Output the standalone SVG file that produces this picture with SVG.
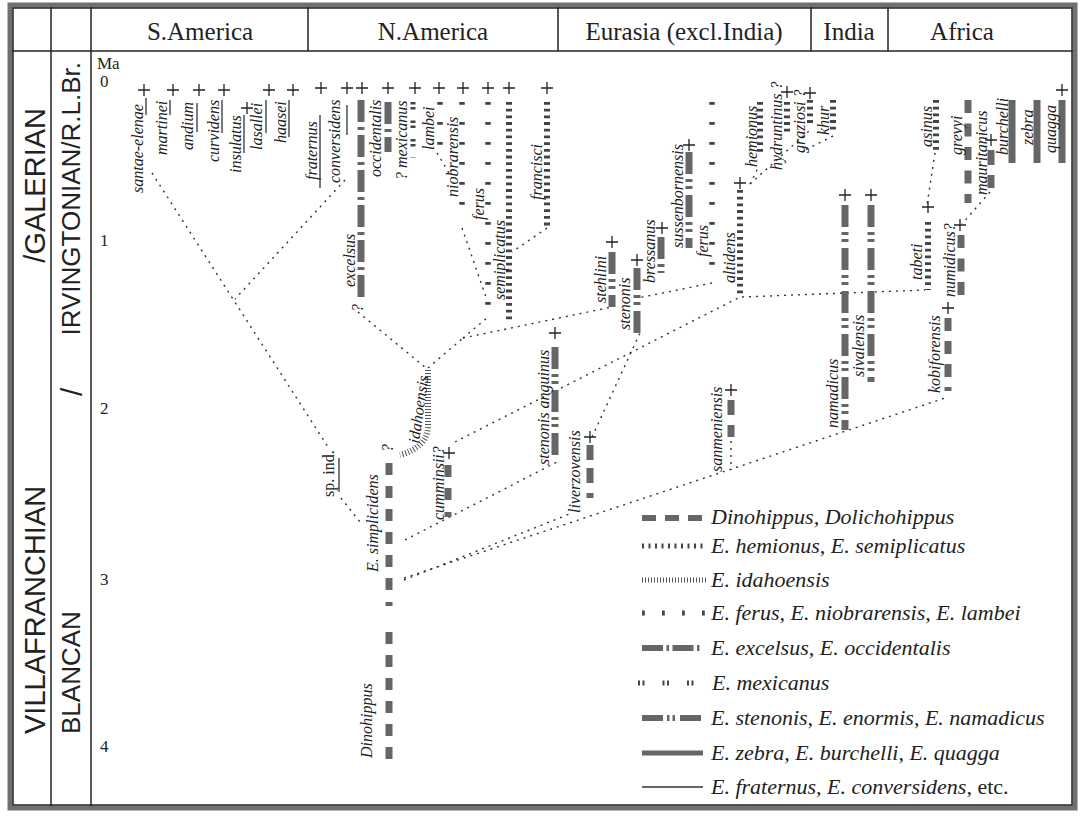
<svg xmlns="http://www.w3.org/2000/svg" xmlns:xlink="http://www.w3.org/1999/xlink" width="1084" height="819" viewBox="0 0 1084 819">
<style>
.hd{font-family:"Liberation Serif",serif;font-size:25px;fill:#222;text-anchor:middle}
.ax{font-family:"Liberation Serif",serif;font-size:17px;fill:#222}
.ep{font-family:"Liberation Sans",sans-serif;fill:#222}
.sp{font-family:"Liberation Serif",serif;font-style:italic;font-size:16px;fill:#222}
.up{font-family:"Liberation Serif",serif;font-size:16px;fill:#222}
.lg{font-family:"Liberation Serif",serif;font-style:italic;font-size:22px;fill:#222}
.conn{stroke:#333;stroke-width:1.4;stroke-dasharray:2 5;fill:none}
.dino{stroke:#666;stroke-width:7;stroke-dasharray:12 11;fill:none}
.hem{stroke:#444;stroke-width:6;stroke-dasharray:2.8 3.9;fill:none}
.idah{stroke:#555;stroke-width:6;stroke-dasharray:1 2;fill:none}
.fer{stroke:#444;stroke-width:5.5;stroke-dasharray:2.8 17.2;fill:none}
.exc{stroke:#666;stroke-width:7;stroke-dasharray:22 5 3 5;fill:none}
.mex{stroke:#444;stroke-width:5;stroke-dasharray:2.5 2.5 2.5 11;fill:none}
.sten{stroke:#666;stroke-width:7;stroke-dasharray:22 5 3 4 3 6;fill:none}
.zeb{stroke:#666;stroke-width:7;fill:none}
.fra{stroke:#333;stroke-width:1.3;fill:none}
.grid{stroke:#222;stroke-width:1.5;fill:none}
</style>
<defs>
<symbol id="plus" overflow="visible"><path d="M-6 0H6M0-6V6" stroke="#222" stroke-width="1.3" fill="none"/></symbol>
</defs>
<rect width="1084" height="819" fill="#fff"/>
<g id="frame">
<rect x="10" y="5" width="1065" height="803" fill="none" stroke="#707070" stroke-width="5"/>
<rect x="13" y="8" width="1059" height="797" class="grid" stroke-width="1"/>
<line class="grid" x1="12" y1="51" x2="1073" y2="51"/>
<line class="grid" x1="51" y1="7" x2="51" y2="806"/>
<line class="grid" x1="91" y1="7" x2="91" y2="806"/>
<line class="grid" x1="308" y1="7" x2="308" y2="51"/>
<line class="grid" x1="558" y1="7" x2="558" y2="51"/>
<line class="grid" x1="811" y1="7" x2="811" y2="51"/>
<line class="grid" x1="888" y1="7" x2="888" y2="51"/>
</g>
<g id="headers">
<text class="hd" x="200" y="40">S.America</text>
<text class="hd" x="433" y="40">N.America</text>
<text class="hd" x="684" y="40">Eurasia (excl.India)</text>
<text class="hd" x="849" y="40">India</text>
<text class="hd" x="962" y="40">Africa</text>
</g>
<g id="epochs">
<text class="ep" font-size="29" text-anchor="end" transform="translate(45,108) rotate(-90)">/GALERIAN</text>
<text class="ep" font-size="29" transform="translate(45,734) rotate(-90)">VILLAFRANCHIAN</text>
<text class="ep" font-size="26" text-anchor="end" transform="translate(80,62) rotate(-90)">IRVINGTONIAN/R.L.Br.</text>
<text class="ep" font-size="30" transform="translate(82,396) rotate(-90)">/</text>
<text class="ep" font-size="26" transform="translate(80,734) rotate(-90)">BLANCAN</text>
</g>
<g id="axis">
<text class="ax" x="97" y="69">Ma</text>
<text class="ax" x="100" y="87">0</text>
<text class="ax" x="100" y="246">1</text>
<text class="ax" x="100" y="414">2</text>
<text class="ax" x="100" y="585">3</text>
<text class="ax" x="100" y="752">4</text>
</g>
<g id="connectors">
<line class="conn" x1="152" y1="173" x2="328" y2="447"/>
<line class="conn" x1="345" y1="180" x2="235" y2="299"/>
<line class="conn" x1="341" y1="498" x2="360" y2="522"/>
<line class="conn" x1="358" y1="312" x2="426" y2="368"/>
<line class="conn" x1="428" y1="368" x2="463" y2="338"/>
<line class="conn" x1="463" y1="338" x2="487" y2="318"/>
<line class="conn" x1="462" y1="228" x2="487" y2="300"/>
<line class="conn" x1="437" y1="153" x2="452" y2="178"/>
<line class="conn" x1="547" y1="228" x2="512" y2="252"/>
<line class="conn" x1="463" y1="338" x2="612" y2="307"/>
<line class="conn" x1="455" y1="442" x2="740" y2="297"/>
<line class="conn" x1="405" y1="540" x2="557" y2="462"/>
<line class="conn" x1="592" y1="437" x2="640" y2="333"/>
<line class="conn" x1="404" y1="578" x2="945" y2="398"/>
<line class="conn" x1="404" y1="580" x2="572" y2="513"/>
<line class="conn" x1="712" y1="283" x2="638" y2="298"/>
<line class="conn" x1="742" y1="297" x2="925" y2="290"/>
<line class="conn" x1="750" y1="184" x2="810" y2="130"/>
<line class="conn" x1="833" y1="136" x2="805" y2="150"/>
<line class="conn" x1="750" y1="184" x2="758" y2="168"/>
<line class="conn" x1="935" y1="153" x2="927" y2="205"/>
<line class="conn" x1="990" y1="192" x2="962" y2="224"/>
<line class="conn" x1="731" y1="441" x2="731" y2="470"/>
</g>
<g id="santae-elenae"><text class="sp" transform="translate(143,193) rotate(-90)">santae-elenae</text><line class="fra" x1="146" y1="98" x2="146" y2="115"/><use xlink:href="#plus" x="144" y="90"/></g>
<g id="martinei"><text class="sp" transform="translate(167,155) rotate(-90)">martinei</text><line class="fra" x1="170" y1="100" x2="170" y2="115"/><use xlink:href="#plus" x="173" y="90"/></g>
<g id="andium"><text class="sp" transform="translate(193,150) rotate(-90)">andium</text><line class="fra" x1="197" y1="103" x2="197" y2="132"/><use xlink:href="#plus" x="199" y="90"/></g>
<g id="curvidens"><text class="sp" transform="translate(219,162) rotate(-90)">curvidens</text><line class="fra" x1="222" y1="100" x2="222" y2="133"/><use xlink:href="#plus" x="224" y="90"/></g>
<g id="insulatus"><text class="sp" transform="translate(241,173) rotate(-90)">insulatus</text><line class="fra" x1="244" y1="115" x2="244" y2="153"/><use xlink:href="#plus" x="247" y="108"/></g>
<g id="lasallei"><text class="sp" transform="translate(262,150) rotate(-90)">lasallei</text><line class="fra" x1="266" y1="100" x2="266" y2="133"/><use xlink:href="#plus" x="269" y="90"/></g>
<g id="haasei"><text class="sp" transform="translate(286,143) rotate(-90)">haasei</text><line class="fra" x1="289" y1="100" x2="289" y2="137"/><use xlink:href="#plus" x="293" y="90"/></g>
<g id="fraternus"><text class="sp" transform="translate(317,180) rotate(-90)">fraternus</text><line class="fra" x1="320" y1="115" x2="320" y2="188"/><use xlink:href="#plus" x="321" y="88"/></g>
<g id="conversidens"><text class="sp" transform="translate(340,183) rotate(-90)">conversidens</text><line class="fra" x1="347" y1="105" x2="347" y2="135"/><use xlink:href="#plus" x="347" y="88"/></g>
<g id="excelsus"><line class="exc" x1="361" y1="100" x2="361" y2="297"/><text class="sp" transform="translate(355,287) rotate(-90)">excelsus</text><text class="sp" transform="translate(363,312) rotate(-90)">?</text><use xlink:href="#plus" x="362" y="88"/></g>
<g id="occidentalis"><line class="exc" x1="388" y1="102" x2="388" y2="152"/><text class="sp" transform="translate(381,177) rotate(-90)">occidentalis</text><use xlink:href="#plus" x="388" y="88"/></g>
<g id="mexicanus"><line class="mex" x1="413" y1="102" x2="413" y2="158"/><text class="sp" transform="translate(407,180) rotate(-90)">? mexicanus</text><use xlink:href="#plus" x="415" y="88"/></g>
<g id="lambei"><line class="fer" x1="440" y1="102" x2="440" y2="150"/><text class="sp" transform="translate(434,150) rotate(-90)">lambei</text><use xlink:href="#plus" x="439" y="88"/></g>
<g id="niobrarensis"><line class="fer" x1="462" y1="102" x2="462" y2="222"/><text class="sp" transform="translate(458,197) rotate(-90)">niobrarensis</text><use xlink:href="#plus" x="463" y="88"/></g>
<g id="ferus-na"><line class="fer" x1="488" y1="102" x2="488" y2="320"/><text class="sp" transform="translate(484,220) rotate(-90)">ferus</text><use xlink:href="#plus" x="488" y="88"/></g>
<g id="semiplicatus"><line class="hem" x1="509" y1="102" x2="509" y2="323"/><text class="sp" transform="translate(505,300) rotate(-90)">semiplicatus</text><use xlink:href="#plus" x="509" y="88"/></g>
<g id="francisci"><line class="hem" x1="547" y1="102" x2="547" y2="227"/><text class="sp" transform="translate(542,200) rotate(-90)">francisci</text><use xlink:href="#plus" x="547" y="88"/></g>
<g id="idahoensis"><path class="idah" d="M428,370 L428,425 Q428,447 400,455"/><text class="sp" transform="translate(419,444) rotate(-82)">idahoensis</text></g>
<g id="sp-ind"><text class="up" transform="translate(334,497) rotate(-90)">sp. ind.</text><line class="fra" x1="339" y1="458" x2="339" y2="492"/></g>
<g id="simplicidens"><line class="dino" x1="389" y1="463" x2="389" y2="598"/><line class="zeb" x1="389" y1="602" x2="389" y2="606"/><text class="sp" transform="translate(378,572) rotate(-90)">E. simplicidens</text><text class="sp" transform="translate(393,452) rotate(-90)">?</text></g>
<g id="dinohippus"><line class="dino" x1="389" y1="632" x2="389" y2="760"/><text class="sp" transform="translate(372,758) rotate(-90)">Dinohippus</text></g>
<g id="cumminsii"><line class="dino" x1="448" y1="465" x2="448" y2="502"/><line class="zeb" x1="448" y1="512" x2="448" y2="517"/><text class="sp" transform="translate(444,520) rotate(-90)">cumminsii?</text><use xlink:href="#plus" x="449" y="453"/></g>
<g id="stenonis-anguinus"><line class="sten" x1="555" y1="347" x2="555" y2="457"/><text class="sp" transform="translate(549,465) rotate(-90)">stenonis anguinus</text><use xlink:href="#plus" x="555" y="333"/></g>
<g id="liverzovensis"><line class="dino" x1="590" y1="445" x2="590" y2="484" style="stroke-dasharray:15 8"/><line class="zeb" x1="590" y1="493" x2="590" y2="498"/><text class="sp" transform="translate(580,513) rotate(-90)">liverzovensis</text><use xlink:href="#plus" x="590" y="437"/></g>
<g id="stehlini"><line class="sten" x1="612" y1="252" x2="612" y2="307"/><text class="sp" transform="translate(606,303) rotate(-90)">stehlini</text><use xlink:href="#plus" x="612" y="242"/></g>
<g id="stenonis"><line class="sten" x1="637" y1="268" x2="637" y2="333"/><text class="sp" transform="translate(630,330) rotate(-90)">stenonis</text><use xlink:href="#plus" x="637" y="260"/></g>
<g id="bressanus"><line class="sten" x1="661" y1="237" x2="661" y2="273"/><text class="sp" transform="translate(655,283) rotate(-90)">bressanus</text><use xlink:href="#plus" x="662" y="228"/></g>
<g id="sussenbornensis"><line class="sten" x1="689" y1="152" x2="689" y2="248"/><text class="sp" transform="translate(683,248) rotate(-90)">sussenbornensis</text><use xlink:href="#plus" x="689" y="145"/></g>
<g id="ferus-ea"><line class="fer" x1="712" y1="102" x2="712" y2="280"/><text class="sp" transform="translate(708,257) rotate(-90)">ferus</text></g>
<g id="altidens"><line class="hem" x1="740" y1="190" x2="740" y2="294"/><text class="sp" transform="translate(735,283) rotate(-90)">altidens</text><use xlink:href="#plus" x="740" y="183"/></g>
<g id="hemionus"><line class="hem" x1="760" y1="102" x2="760" y2="153"/><text class="sp" transform="translate(757,167) rotate(-90)">hemionus</text></g>
<g id="hydruntinus"><line class="hem" x1="787" y1="102" x2="787" y2="133"/><text class="sp" transform="translate(782,170) rotate(-90)">hydruntinus ?</text><use xlink:href="#plus" x="787" y="92"/></g>
<g id="graziosi"><line class="hem" x1="810" y1="100" x2="810" y2="123"/><text class="sp" transform="translate(805,153) rotate(-90)">graziosi ?</text><use xlink:href="#plus" x="810" y="93"/></g>
<g id="khur"><line class="hem" x1="833" y1="100" x2="833" y2="133"/><text class="sp" transform="translate(829,135) rotate(-90)">khur</text></g>
<g id="sanmeniensis"><line class="dino" x1="731" y1="400" x2="731" y2="437" style="stroke-dasharray:15 10"/><text class="sp" transform="translate(722,472) rotate(-90)">sanmeniensis</text><use xlink:href="#plus" x="731" y="390"/></g>
<g id="namadicus"><line class="sten" x1="845" y1="205" x2="845" y2="430"/><text class="sp" transform="translate(838,428) rotate(-90)">namadicus</text><use xlink:href="#plus" x="845" y="195"/></g>
<g id="sivalensis"><line class="sten" x1="871" y1="205" x2="871" y2="382"/><text class="sp" transform="translate(864,377) rotate(-90)">sivalensis</text><use xlink:href="#plus" x="871" y="195"/></g>
<g id="asinus"><line class="hem" x1="936" y1="100" x2="936" y2="150"/><text class="sp" transform="translate(932,147) rotate(-90)">asinus</text></g>
<g id="tabeti"><line class="hem" x1="928" y1="222" x2="928" y2="290"/><text class="sp" transform="translate(922,280) rotate(-90)">tabeti</text><use xlink:href="#plus" x="928" y="207"/></g>
<g id="grevyi"><line class="dino" x1="968" y1="100" x2="968" y2="203" style="stroke-dasharray:13 10.5"/><text class="sp" transform="translate(962,155) rotate(-90)">grevyi</text></g>
<g id="mauritanicus"><line class="dino" x1="991" y1="150" x2="991" y2="188" style="stroke-dasharray:15 10"/><text class="sp" transform="translate(987,195) rotate(-90)">mauritanicus</text><use xlink:href="#plus" x="991" y="140"/></g>
<g id="burchelli"><line class="zeb" x1="1012" y1="100" x2="1012" y2="163"/><text class="sp" transform="translate(1008,155) rotate(-90)">burchelli</text></g>
<g id="zebra"><line class="zeb" x1="1037" y1="100" x2="1037" y2="163"/><text class="sp" transform="translate(1033,145) rotate(-90)">zebra</text></g>
<g id="quagga"><line class="zeb" x1="1062" y1="100" x2="1062" y2="163"/><text class="sp" transform="translate(1056,153) rotate(-90)">quagga</text><use xlink:href="#plus" x="1062" y="90"/></g>
<g id="numidicus"><line class="dino" x1="961" y1="235" x2="961" y2="296" style="stroke-dasharray:13 10.5"/><text class="sp" transform="translate(955,297) rotate(-90)">numidicus?</text><use xlink:href="#plus" x="960" y="225"/></g>
<g id="kobiforensis"><line class="dino" x1="948" y1="318" x2="948" y2="378" style="stroke-dasharray:13 10"/><line class="zeb" x1="948" y1="387" x2="948" y2="391"/><text class="sp" transform="translate(940,393) rotate(-90)">kobiforensis</text><use xlink:href="#plus" x="948" y="308"/></g>
<g id="legend">
<line class="dino" x1="642" y1="518" x2="704" y2="518" style="stroke-width:6;stroke-dasharray:14 9"/>
<text class="lg" x="711" y="524">Dinohippus, Dolichohippus</text>
<line class="hem" x1="642" y1="546" x2="704" y2="546" style="stroke-width:5;stroke-dasharray:2 4.5"/>
<text class="lg" x="711" y="553">E. hemionus, E. semiplicatus</text>
<line class="idah" x1="642" y1="580" x2="706" y2="580" style="stroke-width:5"/>
<text class="lg" x="711" y="587">E. idahoensis</text>
<line class="fer" x1="642" y1="613" x2="705" y2="613" style="stroke-width:5"/>
<text class="lg" x="711" y="620">E. ferus, E. niobrarensis, E. lambei</text>
<line class="exc" x1="642" y1="648" x2="703" y2="648" style="stroke-width:6;stroke-dasharray:21 3.5 2.5 3.5"/>
<text class="lg" x="711" y="655">E. excelsus, E. occidentalis</text>
<line class="mex" x1="638" y1="683" x2="697" y2="683" style="stroke-dasharray:2 2.5 2 18"/>
<text class="lg" x="712" y="690">E. mexicanus</text>
<line class="sten" x1="642" y1="718" x2="703" y2="718" style="stroke-width:6;stroke-dasharray:21 4 2.5 3 2.5 5"/>
<text class="lg" x="711" y="725">E. stenonis, E. enormis, E. namadicus</text>
<line class="zeb" x1="642" y1="753" x2="703" y2="753" style="stroke-width:5"/>
<text class="lg" x="711" y="760">E. zebra, E. burchelli, E. quagga</text>
<line class="fra" x1="642" y1="787" x2="703" y2="787"/>
<text class="lg" x="711" y="794">E. fraternus, E. conversidens, <tspan font-style="normal">etc.</tspan></text>
</g>
</svg>
